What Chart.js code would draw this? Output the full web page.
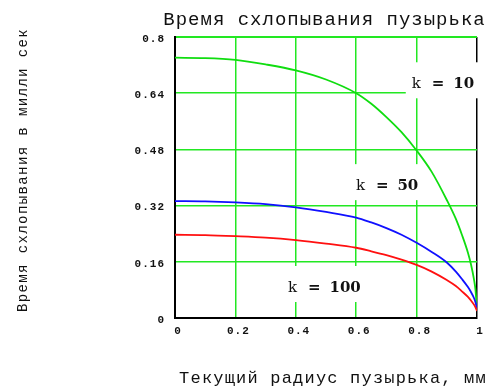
<!DOCTYPE html>
<html>
<head>
<meta charset="utf-8">
<script src="https://cdn.jsdelivr.net/npm/chart.js@4/dist/chart.umd.min.js"></script>
<style>
  html, body { margin: 0; padding: 0; background: #fff; }
  canvas { display: block; }
</style>
</head>
<body>
<canvas id="c" width="492" height="387"></canvas>
<script>
// Current bubble radius, mm
const radius = [0, 0.1, 0.2, 0.3, 0.4, 0.5, 0.6, 0.65, 0.7, 0.75, 0.8, 0.85, 0.9, 0.93, 0.95, 0.97, 0.98, 0.99, 0.995, 1.0];
// Collapse time, ms, for each k
const timeK10  = [0.741, 0.740, 0.735, 0.722, 0.705, 0.679, 0.640, 0.610, 0.572, 0.529, 0.477, 0.416, 0.336, 0.282, 0.237, 0.186, 0.153, 0.110, 0.080, 0.022];
const timeK50  = [0.333, 0.332, 0.329, 0.324, 0.315, 0.302, 0.286, 0.272, 0.256, 0.237, 0.214, 0.188, 0.158, 0.132, 0.111, 0.088, 0.074, 0.057, 0.045, 0.027];
const timeK100 = [0.237, 0.236, 0.233, 0.229, 0.222, 0.212, 0.200, 0.190, 0.179, 0.166, 0.151, 0.132, 0.108, 0.091, 0.076, 0.060, 0.050, 0.038, 0.030, 0.020];

const seriesK = ['10', '50', '100'];
const xTicks = [0, 0.2, 0.4, 0.6, 0.8, 1];
const xTickLabels = ['0', '0.2', '0.4', '0.6', '0.8', '1'];
const yTicks = [0, 0.16, 0.32, 0.48, 0.64, 0.8];
const yTickLabels = ['0', '0.16', '0.32', '0.48', '0.64', '0.8'];

const titleText = 'Время схлопывания пузырька';
const xTitleText = 'Текущий радиус пузырька, мм';
const yTitleText = 'Время схлопывания в милли сек';

// where each "k = ..." label sits, in data units (left edge, baseline)
const labelAnchors = [[0.784, 0.654], [0.599, 0.364], [0.374, 0.074]];

const GRID_GREEN = '#22e822';
const MONO = '"Liberation Mono", "DejaVu Sans Mono", monospace';
const SERIF = '"DejaVu Serif", "Liberation Serif", serif';

function pts(ys) { return radius.map((r, i) => ({ x: r, y: ys[i] })); }

const textPlugin = {
  id: 'chartTexts',
  beforeDraw(chart) {
    chart.ctx.letterSpacing = '1px';
  },
  beforeDatasetsDraw(chart) {
    const ctx = chart.ctx;
    const xs = chart.scales.x, ys = chart.scales.y;
    ctx.save();
    labelAnchors.forEach((a, i) => {
      const x0 = xs.getPixelForValue(a[0]);
      const base = ys.getPixelForValue(a[1]);
      ctx.letterSpacing = '0px';
      ctx.font = 'bold 15px ' + SERIF;
      const numW = ctx.measureText(seriesK[i]).width;
      const right = x0 + 41.5 + numW;
      // white backing behind the label
      ctx.fillStyle = '#fff';
      ctx.fillRect(x0 - 6, base - 26, right - x0 + 12, 36);
      ctx.fillStyle = '#111';
      ctx.textAlign = 'left';
      ctx.textBaseline = 'alphabetic';
      ctx.font = '15px ' + SERIF;
      ctx.fillText('k', x0, base);
      ctx.font = 'bold 15px ' + SERIF;
      ctx.fillText('=', x0 + 20, base);
      ctx.fillText(seriesK[i], x0 + 41.5, base);
    });
    ctx.restore();
  },
  afterDraw(chart) {
    const ctx = chart.ctx;
    ctx.save();
    ctx.fillStyle = '#111';
    ctx.textAlign = 'center';
    ctx.textBaseline = 'alphabetic';

    ctx.letterSpacing = '1px';
    ctx.font = '19px ' + MONO;
    ctx.fillText(titleText, 324.5, 25);

    ctx.letterSpacing = '1.2px';
    ctx.font = '17px ' + MONO;
    ctx.fillText(xTitleText, 333, 383);

    ctx.translate(26.5, 170);
    ctx.rotate(-Math.PI / 2);
    ctx.letterSpacing = '1.4px';
    ctx.font = '14px ' + MONO;
    ctx.fillText(yTitleText, 0, 0);
    ctx.restore();
  }
};

const tickFont = { family: MONO, size: 11, weight: 'bold' };

new Chart(document.getElementById('c').getContext('2d'), {
  type: 'line',
  data: {
    datasets: [
      { label: 'k = 100', data: pts(timeK100), borderColor: '#ff1010' },
      { label: 'k = 50',  data: pts(timeK50),  borderColor: '#1010ff' },
      { label: 'k = 10',  data: pts(timeK10),  borderColor: '#10dd10' }
    ]
  },
  options: {
    responsive: false,
    animation: false,
    devicePixelRatio: 1,
    layout: { padding: { top: 37, right: 15, left: 0, bottom: 0 } },
    plugins: {
      legend: { display: false },
      title: { display: false },
      tooltip: { enabled: false }
    },
    elements: {
      point: { radius: 0 },
      line: { borderWidth: 1.8, cubicInterpolationMode: 'monotone', fill: false }
    },
    scales: {
      x: {
        type: 'linear',
        min: 0, max: 1,
        afterBuildTicks: s => { s.ticks = xTicks.map(v => ({ value: v })); },
        afterFit: s => { s.height = 69; },
        ticks: {
          autoSkip: false, maxRotation: 0, padding: 7, labelOffset: 3,
          color: '#111', font: tickFont,
          callback: (v, i) => xTickLabels[i]
        },
        grid: {
          drawTicks: false,
          lineWidth: 1.5,
          color: c => (c.tick && (c.tick.value === 0 || c.tick.value === 1)) ? '#000' : GRID_GREEN
        },
        border: { display: true, color: '#000', width: 2 }
      },
      y: {
        type: 'linear',
        min: 0, max: 0.8,
        afterBuildTicks: s => { s.ticks = yTicks.map(v => ({ value: v })); },
        afterFit: s => { s.width = 175; },
        ticks: {
          autoSkip: false, padding: 10, labelOffset: 2,
          color: '#111', font: tickFont,
          callback: (v, i) => yTickLabels[i]
        },
        grid: {
          drawTicks: false,
          lineWidth: c => (c.tick && c.tick.value === 0.8) ? 2 : 1.5,
          color: c => (c.tick && c.tick.value === 0) ? '#000' : GRID_GREEN
        },
        border: { display: true, color: '#000', width: 2 }
      }
    }
  },
  plugins: [textPlugin]
});
</script>
</body>
</html>
